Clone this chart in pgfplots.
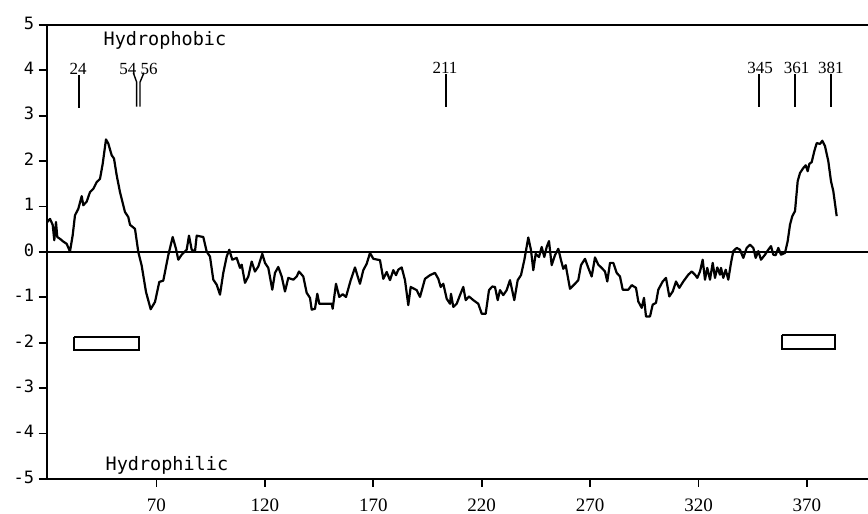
\documentclass[border=0pt]{standalone}
\usepackage{pgfplots}
\pgfplotsset{compat=1.18}
\usepackage{fontspec}
\setmainfont{Liberation Serif}
\newfontfamily\monofont{DejaVu Sans Mono}
\begin{document}
\begin{tikzpicture}
\begin{axis}[
  scale only axis, width=821.3pt, height=454pt,
  xmin=19.36, xmax=398.18, ymin=-5, ymax=5,
  axis x line=box, axis y line=left,
  axis line style={-, line width=2.2pt},
  every non boxed y axis/.append style={y axis line style={-}},
  xtick={70,120,...,370}, ytick={-5,-4,...,5},
  yticklabels={-5,-4,-3,-2,-1,0,1,2,3,4,5},
  xtick pos=left, ytick pos=left, tick align=outside,
  major tick length=8pt,
  tick style={line width=1.8pt, black},
  /pgf/number format/assume math mode=true,
  xticklabel style={font=\fontsize{19}{19}\selectfont, yshift=-8pt},
  yticklabel style={font=\monofont\fontsize{17}{17}\selectfont, xshift=-1pt, yshift=2pt},
]
\addplot[black, line width=2pt, forget plot] coordinates {(19.36,0) (398.18,0)};
\addplot[black, line width=2.2pt, line join=round] coordinates {
(19.63,0.66)(20.88,0.73)(22.12,0.60)(22.86,0.26)(23.64,0.66)(24.24,0.33)(25.49,0.29)(27.01,0.23)(28.58,0.18)(30.10,0.01)
(31.35,0.37)(32.41,0.81)(33.93,0.95)(35.50,1.23)(36.24,1.03)(37.81,1.11)(39.33,1.32)(40.85,1.39)(42.42,1.54)(43.94,1.61)
(45.18,1.94)(46.71,2.48)(47.77,2.39)(49.34,2.13)(50.40,2.06)(51.64,1.69)(53.16,1.32)(55.47,0.88)(56.99,0.77)(57.78,0.60)
(60.08,0.51)(61.61,0.00)(63.17,-0.30)(65.16,-0.88)(67.32,-1.26)(69.31,-1.10)(71.29,-0.66)(73.14,-0.63)(75.44,-0.07)(77.47,0.33)
(79.00,0.07)(80.06,-0.17)(81.62,-0.06)(83.93,0.05)(84.99,0.36)(86.24,0.05)(87.76,0.01)(88.54,0.36)(91.59,0.33)(93.15,0.01)
(94.68,-0.10)(96.20,-0.61)(97.77,-0.72)(99.29,-0.94)(100.81,-0.46)(102.38,-0.10)(103.58,0.05)(104.96,-0.17)(106.99,-0.13)(108.51,-0.35)
(109.30,-0.28)(110.82,-0.68)(112.34,-0.54)(113.91,-0.21)(115.43,-0.43)(116.96,-0.32)(118.80,-0.04)(120.05,-0.24)(121.57,-0.35)(123.41,-0.83)
(124.66,-0.46)(126.18,-0.33)(127.75,-0.54)(129.27,-0.87)(130.79,-0.57)(133.10,-0.61)(134.67,-0.54)(135.73,-0.43)(137.71,-0.54)(139.28,-0.90)
(140.80,-1.01)(141.59,-1.27)(143.11,-1.25)(144.17,-0.92)(145.09,-1.14)(150.81,-1.14)(151.27,-1.25)(152.79,-0.70)(154.32,-0.99)(155.88,-0.93)
(157.41,-0.99)(159.58,-0.62)(161.56,-0.34)(162.62,-0.51)(163.86,-0.70)(165.39,-0.40)(166.95,-0.26)(168.48,-0.02)(170.00,-0.15)(173.09,-0.18)
(174.61,-0.59)(176.18,-0.44)(177.70,-0.62)(179.22,-0.40)(180.47,-0.51)(181.53,-0.39)(183.10,-0.34)(184.62,-0.62)(186.14,-1.17)(187.25,-0.77)
(190.02,-0.84)(191.54,-0.99)(193.84,-0.59)(196.15,-0.51)(198.46,-0.46)(199.98,-0.59)(201.09,-0.77)(202.29,-0.70)(203.86,-1.03)(205.38,-1.14)
(205.84,-0.92)(206.90,-1.21)(208.47,-1.14)(209.99,-0.95)(211.51,-0.77)(212.62,-1.06)(214.14,-0.98)(216.12,-1.06)(218.43,-1.14)(220.00,-1.36)
(221.84,-1.36)(223.36,-0.84)(224.89,-0.76)(226.13,-0.77)(227.38,-1.06)(228.44,-0.84)(229.96,-0.95)(231.53,-0.84)(233.05,-0.62)(235.03,-1.06)
(236.60,-0.62)(238.12,-0.51)(239.65,-0.18)(241.49,0.32)(242.74,0.04)(243.80,-0.40)(244.90,-0.04)(246.43,-0.11)(247.67,0.11)(248.87,-0.11)
(249.98,0.11)(251.04,0.24)(252.28,-0.29)(253.81,-0.07)(255.33,0.07)(256.58,-0.18)(257.64,-0.37)(258.74,-0.29)(260.73,-0.81)(263.03,-0.70)
(264.55,-0.62)(265.80,-0.29)(267.64,-0.15)(269.17,-0.35)(270.73,-0.54)(272.26,-0.12)(273.78,-0.28)(275.35,-0.35)(276.87,-0.43)(277.93,-0.65)
(279.18,-0.24)(280.70,-0.24)(282.27,-0.46)(283.79,-0.54)(285.04,-0.83)(287.62,-0.83)(289.19,-0.73)(291.17,-0.79)(292.23,-1.09)(293.80,-1.23)
(294.86,-1.01)(295.78,-1.42)(297.63,-1.42)(298.87,-1.16)(300.39,-1.12)(301.46,-0.83)(303.48,-0.65)(305.00,-0.57)(306.53,-0.98)(308.09,-0.87)
(309.62,-0.65)(311.14,-0.79)(312.99,-0.65)(315.29,-0.50)(316.86,-0.43)(318.38,-0.50)(319.44,-0.57)(320.69,-0.43)(321.93,-0.17)(322.99,-0.61)
(324.05,-0.35)(325.30,-0.61)(326.55,-0.24)(327.61,-0.57)(328.67,-0.34)(329.91,-0.50)(330.38,-0.35)(331.44,-0.57)(332.54,-0.39)(333.74,-0.61)
(334.99,-0.24)(336.05,0.02)(337.62,0.09)(339.14,0.05)(340.66,-0.13)(342.23,0.09)(343.75,0.16)(345.28,0.09)(346.38,-0.13)(347.58,0.02)
(348.83,-0.17)(350.67,-0.06)(352.19,0.05)(353.44,0.13)(354.50,-0.06)(355.60,-0.07)(356.81,0.09)(358.05,-0.06)(359.90,-0.02)(361.14,0.24)
(362.20,0.60)(363.26,0.79)(364.51,0.90)(365.75,1.56)(366.81,1.74)(368.34,1.85)(369.44,1.91)(370.36,1.78)(371.11,1.94)(372.21,1.98)
(373.41,2.22)(374.52,2.40)(376.04,2.38)(377.10,2.45)(378.35,2.33)(379.87,2.00)(381.11,1.56)(382.18,1.34)(383.74,0.79)
};
% boxes
\addplot[black, line width=2pt] coordinates {(31.9,-1.88)(62.1,-1.88)(62.1,-2.16)(31.9,-2.16)(31.9,-1.88)};
\addplot[black, line width=2pt] coordinates {(358.4,-1.83)(383.1,-1.83)(383.1,-2.13)(358.4,-2.13)(358.4,-1.83)};
% markers
\addplot[black, line width=1.4pt] coordinates {(34.25,3.18)(34.25,3.9)};
\addplot[black, line width=1.4pt] coordinates {(60.87,3.2)(60.87,3.74)(59.3,3.95)};
\addplot[black, line width=1.4pt] coordinates {(62.39,3.2)(62.39,3.74)(64.23,3.95)};
\addplot[black, line width=1.4pt] coordinates {(203.5,3.2)(203.5,3.92)};
\addplot[black, line width=1.4pt] coordinates {(347.9,3.2)(347.9,3.92)};
\addplot[black, line width=1.4pt] coordinates {(364.5,3.2)(364.5,3.92)};
\addplot[black, line width=1.4pt] coordinates {(381.1,3.2)(381.1,3.92)};
\begin{scope}[every node/.style={font=\fontsize{17}{17}\selectfont, inner sep=0pt}]
\node at (axis cs:33.9,4.04) {24};
\node at (axis cs:56.8,4.04) {54};
\node at (axis cs:66.6,4.04) {56};
\node at (axis cs:203.1,4.06) {211};
\node at (axis cs:348.4,4.06) {345};
\node at (axis cs:365.3,4.06) {361};
\node at (axis cs:381.0,4.06) {381};
\end{scope}
\node[font=\monofont\fontsize{18.5}{18.5}\selectfont] at (axis cs:73.9,4.67) {Hydrophobic};
\node[font=\monofont\fontsize{18.5}{18.5}\selectfont] at (axis cs:74.8,-4.69) {Hydrophilic};
\end{axis}
\pgfresetboundingbox
\path (current axis.south west) ++(-46.7pt,-35pt) rectangle ++(868pt,514pt);
\end{tikzpicture}
\end{document}
